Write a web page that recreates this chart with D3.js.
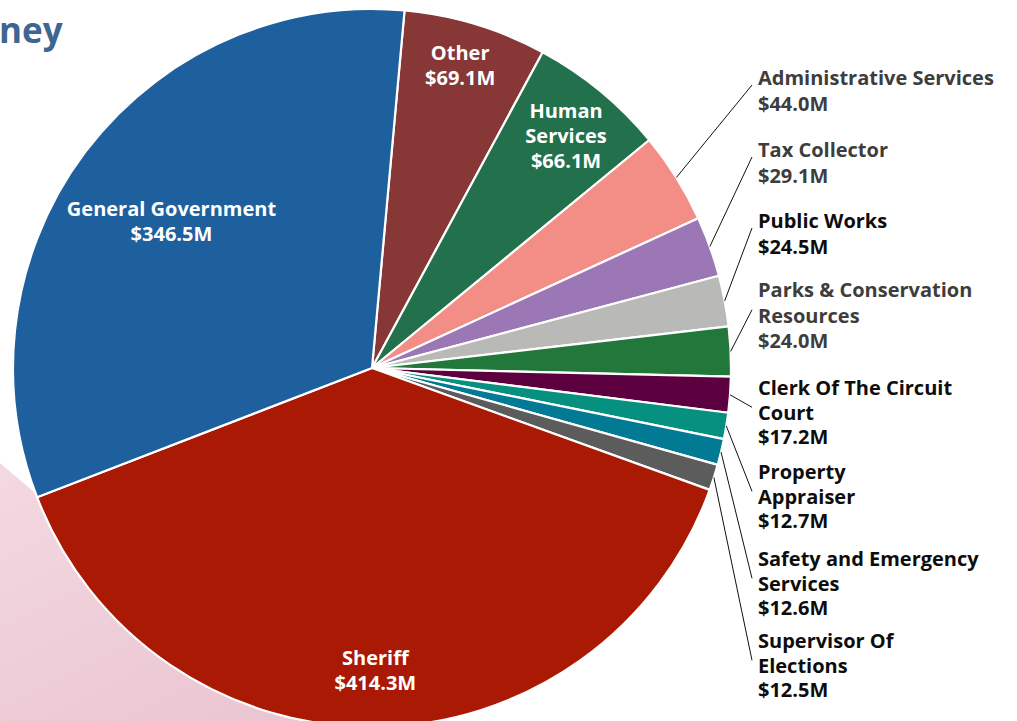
<!DOCTYPE html>
<html>
<head>
<meta charset="utf-8">
<script src="https://cdn.jsdelivr.net/npm/d3@7"></script>
<style>
  html, body { margin: 0; padding: 0; background: #fff; }
  svg { display: block; }
  text { font-family: "Open Sans", "Noto Sans", sans-serif; font-weight: 700; }
</style>
</head>
<body>
<svg id="chart" width="1017" height="721"></svg>
<script>
// Spending by department, in millions of dollars, in clockwise order
const departments = [
  "Other", "Human Services", "Administrative Services", "Tax Collector",
  "Public Works", "Parks & Conservation Resources", "Clerk Of The Circuit Court",
  "Property Appraiser", "Safety and Emergency Services", "Supervisor Of Elections",
  "Sheriff", "General Government"
];
const amounts = [69.1, 66.1, 44.0, 29.1, 24.5, 24.0, 17.2, 12.7, 12.6, 12.5, 414.3, 346.5];
const sliceColors = [
  "#883737", "#23704d", "#f38e87", "#9c77b5", "#b9b9b7", "#22783a",
  "#5c003f", "#06907f", "#027a94", "#5c5c5c", "#aa1903", "#1e5f9e"
];
// How each department's name wraps onto lines
const nameLines = {
  "Other": ["Other"],
  "Human Services": ["Human", "Services"],
  "Administrative Services": ["Administrative Services"],
  "Tax Collector": ["Tax Collector"],
  "Public Works": ["Public Works"],
  "Parks & Conservation Resources": ["Parks & Conservation", "Resources"],
  "Clerk Of The Circuit Court": ["Clerk Of The Circuit", "Court"],
  "Property Appraiser": ["Property", "Appraiser"],
  "Safety and Emergency Services": ["Safety and Emergency", "Services"],
  "Supervisor Of Elections": ["Supervisor Of", "Elections"],
  "Sheriff": ["Sheriff"],
  "General Government": ["General Government"]
};
const insideLabels = ["Other", "Human Services", "Sheriff", "General Government"];

const fmt = v => "$" + d3.format(".1f")(v) + "M";
const data = departments.map((name, i) => ({ name, value: amounts[i], color: sliceColors[i] }));

const svg = d3.select("#chart");

// Soft pink backdrop in the lower-left corner
const defs = svg.append("defs");
const grad = defs.append("linearGradient").attr("id", "pinkFade")
  .attr("x1", "0").attr("y1", "0").attr("x2", "0.6").attr("y2", "1");
grad.append("stop").attr("offset", "0").attr("stop-color", "#f3d9e1");
grad.append("stop").attr("offset", "1").attr("stop-color", "#e8c1ce");
svg.append("path")
  .attr("d", "M0,463 L420,820 L0,820 Z")
  .attr("fill", "url(#pinkFade)");

// Heading (runs off the left edge)
svg.append("text")
  .attr("x", -1).attr("y", 43)
  .attr("font-size", 35)
  .attr("fill", "#3f6591")
  .text("ney");

const cx = 372, cy = 368, R = 359;
const start = 5.2 * Math.PI / 180;

const pie = d3.pie().value(d => d.value).sort(null)
  .startAngle(start).endAngle(start + 2 * Math.PI);
const arcs = pie(data);
const arc = d3.arc().innerRadius(0).outerRadius(R);

const g = svg.append("g").attr("transform", `translate(${cx},${cy})`);

g.selectAll("path.slice")
  .data(arcs)
  .join("path")
  .attr("class", "slice")
  .attr("d", arc)
  .attr("fill", d => d.data.color)
  .attr("stroke", "#ffffff")
  .attr("stroke-width", 2.2)
  .attr("stroke-linejoin", "round");

// Labels drawn on the larger slices
const labelArc = d3.arc().innerRadius(R * 0.85).outerRadius(R * 0.85);
const insideNudge = {
  "General Government": [43, 37],
  "Other": [0, -10],
  "Human Services": [0, 3],
  "Sheriff": [0, -3]
};
const inLH = 25;
arcs.filter(a => insideLabels.includes(a.data.name)).forEach(a => {
  const [x0, y0] = labelArc.centroid(a);
  const [dx, dy] = insideNudge[a.data.name];
  const lines = nameLines[a.data.name].concat([fmt(a.data.value)]);
  const x = x0 + dx;
  const first = y0 + dy - (lines.length - 1) * inLH / 2 + 7;
  const t = g.append("text")
    .attr("text-anchor", "middle")
    .attr("font-size", 20)
    .attr("fill", "#ffffff");
  lines.forEach((ln, i) => {
    t.append("tspan").attr("x", x).attr("y", first + i * inLH).text(ln);
  });
});

// Callout labels for the smaller slices, stacked down the right side
const outside = arcs.filter(a => !insideLabels.includes(a.data.name));
const labelX = 758, lineEndX = 752;
const firstBaseline = {
  "Administrative Services": 85,
  "Tax Collector": 157,
  "Public Works": 228,
  "Parks & Conservation Resources": 297,
  "Clerk Of The Circuit Court": 395,
  "Property Appraiser": 479,
  "Safety and Emergency Services": 566,
  "Supervisor Of Elections": 648
};
const greyText = new Set(["Administrative Services", "Tax Collector", "Parks & Conservation Resources"]);

outside.forEach((a, k) => {
  const name = a.data.name;
  const lines = nameLines[name].concat([fmt(a.data.value)]);
  const lh = k < 4 ? 25.5 : 24.6;
  const y1 = firstBaseline[name];
  const mid = (a.startAngle + a.endAngle) / 2;
  const px = cx + R * Math.sin(mid);
  const py = cy - R * Math.cos(mid);
  const ly = y1 + (lines.length - 2) * lh / 2;

  svg.append("line")
    .attr("x1", px).attr("y1", py)
    .attr("x2", lineEndX).attr("y2", ly)
    .attr("stroke", "#111")
    .attr("stroke-width", 1);

  const t = svg.append("text")
    .attr("font-size", 20)
    .attr("fill", greyText.has(name) ? "#3d3d3d" : "#0d0d0d");
  lines.forEach((ln, i) => {
    t.append("tspan").attr("x", labelX).attr("y", y1 + i * lh).text(ln);
  });
});
</script>
</body>
</html>
